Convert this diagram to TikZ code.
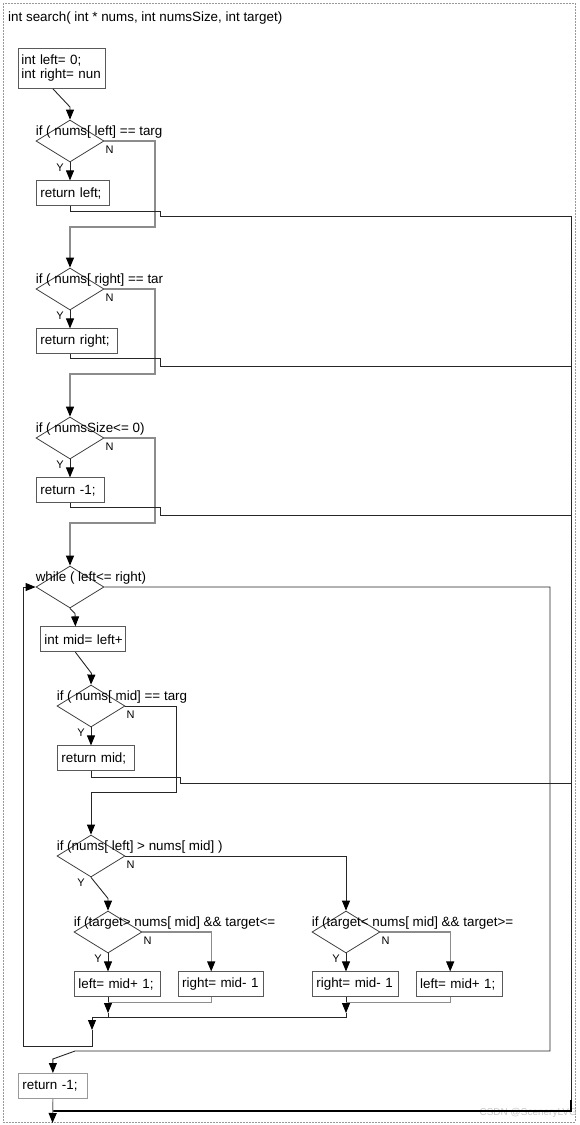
\documentclass[tikz,border=0pt]{standalone}
\usepackage{fontspec}
\setmainfont{Liberation Sans}
\usepackage{tikz}
\usetikzlibrary{shapes.geometric,arrows.meta,positioning,calc}

\begin{document}
\begin{tikzpicture}[
    x=1pt, y=-1pt,
    font=\fontsize{13.4pt}{14pt}\selectfont,
    outerframe/.style={draw=black!40, dash pattern=on 2pt off 1pt, line width=0.8pt},
    cond/.style={diamond, draw=black!75, minimum width=68pt, minimum height=42pt, inner sep=0pt, line width=0.8pt},
    condtext/.style={anchor=base west, inner sep=0pt, yshift=6pt},
    yn/.style={inner sep=1pt, font=\fontsize{11pt}{12pt}\selectfont},
    nbranch/.style={label={[yn, anchor=north west, yshift=-4pt]east:N}},
    ybranch/.style={label={[yn, anchor=north east, xshift=-5pt]south:Y}},
    stmt/.style={rectangle, draw=black!65, align=left, inner xsep=4pt, minimum height=25pt, line width=0.8pt},
    link/.style={draw=black!85, line width=0.9pt},
    pale/.style={draw=black!45, line width=1.2pt},
    arrow/.style={-{Triangle[length=10pt, width=8pt, color=black]}}
]
    \useasboundingbox (0,0) rectangle (579,1125);
    \draw[outerframe] (3,3) rectangle (575,1122);
    \node[anchor=base west, inner sep=0pt] (title) at (8,21) {int search( int * nums, int numsSize, int target)};

    \node[stmt, anchor=north west, inner xsep=3pt, text width=81pt, minimum height=40pt] (init) at (18,48) {int left= 0;\\\mbox{int right= nun}};

    % three early checks
    \node[cond, nbranch, ybranch, label={[condtext]west:{if ( nums[ left] == targ}}] (d1) at (70,141) {};
    \node[stmt, text width=65pt, below right=18pt and -34pt of d1.south] (r1) {return left;};
    \node[cond, nbranch, ybranch, label={[condtext]west:{if ( nums[ right] == tar}}] (d2) at (70,289) {};
    \node[stmt, text width=73pt, below right=18pt and -34pt of d2.south] (r2) {return right;};
    \node[cond, nbranch, ybranch, label={[condtext]west:{if ( numsSize<= 0)}}] (d3) at (70,438) {};
    \node[stmt, text width=60pt, below right=18pt and -34pt of d3.south] (r3) {return -1;};

    % loop
    \node[cond, label={[condtext]west:{while ( left<= right)}}] (dw) at (70,587) {};
    \node[stmt, text width=77pt, below right=18pt and -30pt of dw.south] (mid) {\mbox{int mid= left+}};
    \node[cond, nbranch, ybranch, label={[condtext]west:{if ( nums[ mid] == targ}}] (d4) at (91,706) {};
    \node[stmt, text width=69pt, below right=18pt and -34pt of d4.south] (rm) {return mid;};
    \node[cond, nbranch, ybranch, label={[condtext]west:{if (nums[ left] > nums[ mid] )}}] (d5) at (91,856) {};
    \node[cond, nbranch, ybranch, label={[condtext]west:{if (target> nums[ mid] \&\& target<=}}] (d6) at (108,932) {};
    \node[cond, nbranch, ybranch, label={[condtext]west:{if (target< nums[ mid] \&\& target>=}}] (d7) at (346,932) {};
    \node[stmt, text width=78pt, below right=18pt and -34pt of d6.south] (a1) {left= mid+ 1;};
    \node[stmt, text width=77pt, right=17pt of a1] (a2) {\mbox{right= mid- 1}};
    \node[stmt, text width=78pt, below right=18pt and -34pt of d7.south] (b1) {\mbox{right= mid- 1}};
    \node[stmt, text width=78pt, right=17pt of b1] (b2) {left= mid+ 1;};

    \node[stmt, draw=black!40, text width=61pt, anchor=north west] (rf) at (18,1073) {return -1;};
    \node[anchor=east, inner sep=0pt, text=black!22, font=\fontsize{10pt}{12pt}\selectfont] (wm) at (577,1113) {CSDN @SceneryLVG};

    \coordinate (m1) at (108,1013);
    \coordinate (m2) at (346,1013);
    \coordinate (m3) at (92,1030);
    \coordinate (join) at (52.5,1111);
    \coordinate (end) at (52.5,1123);

    \draw[link, arrow] ([xshift=-9pt]init.south) -- (70,107) -- (d1.north);
    \draw[link, arrow] (d1.south) -- (r1.north -| d1.south);
    \draw[link, arrow] (d2.south) -- (r2.north -| d2.south);
    \draw[link, arrow] (d3.south) -- (r3.north -| d3.south);
    \draw[pale, arrow] (d1.east) -| (155,227) -| (d2.north);
    \draw[pale, arrow] (d2.east) -| (155,374) -| (d3.north);
    \draw[pale, arrow] (d3.east) -| (155,523) -| (dw.north);

    % returns run to the right rail
    \draw[link] (r1.south -| d1.south) -- ++(0,5) -| (160,216) -- (571,216) -- (571,1100);
    \draw[link, line width=1.2pt, draw=black] (571,1100) |- (join);
    \draw[link] (r2.south -| d2.south) -- ++(0,4) -| (160,366) -- (571,366);
    \draw[link] (r3.south -| d3.south) -- ++(0,4) -| (160,515) -- (571,515);
    \draw[link] (rm.south -| d4.south) -- ++(0,6) -| (180,783) -- (571,783);

    \draw[link, arrow] (dw.south) -- ++(5,5) -- ([xshift=-7.5pt]mid.north);
    \draw[link, arrow] ([xshift=-7.5pt]mid.south) -- ++(16,21) -- (d4.north);
    \draw[link, arrow] (d4.south) -- (rm.north -| d4.south);
    \draw[link, arrow] (d4.east) -| (176,792) -| (d5.north);
    \draw[link, arrow] (d5.east) -| (d7.north);
    \draw[link, arrow] (d5.south) -- ++(17,21) -- (d6.north);
    \draw[link, arrow] (d6.south) -- (a1.north -| d6.south);
    \draw[pale, arrow] (d6.east) -| ([xshift=-9.5pt]a2.north);
    \draw[link, arrow] (d7.south) -- (b1.north -| d7.south);
    \draw[pale, arrow] (d7.east) -| ([xshift=-9pt]b2.north);

    % merge and loop back
    \draw[link, arrow] (a1.south -| m1) -- (m1);
    \draw[pale] ([xshift=-9.5pt]a2.south) |- ($(a1.south -| m1)+(0,5)$);
    \draw[link, arrow] (b1.south -| m2) -- (m2);
    \draw[pale] ([xshift=-9pt]b2.south) |- ($(b1.south -| m2)+(0,5)$);
    \draw[link] (m1) -- ++(0,4);
    \draw[link, arrow] (m2) -- ++(0,4) -| (m3);
    \draw[link, arrow] (m3) -- ++(0,16) -| (23,587) -- (dw.west);

    \draw[link, arrow] (dw.east) -| (550,1051) -- (75,1051) -- ([yshift=14pt]rf.north) -- (rf.north);
    \draw[pale, arrow] (rf.south) -- (end);
\end{tikzpicture}
\end{document}
